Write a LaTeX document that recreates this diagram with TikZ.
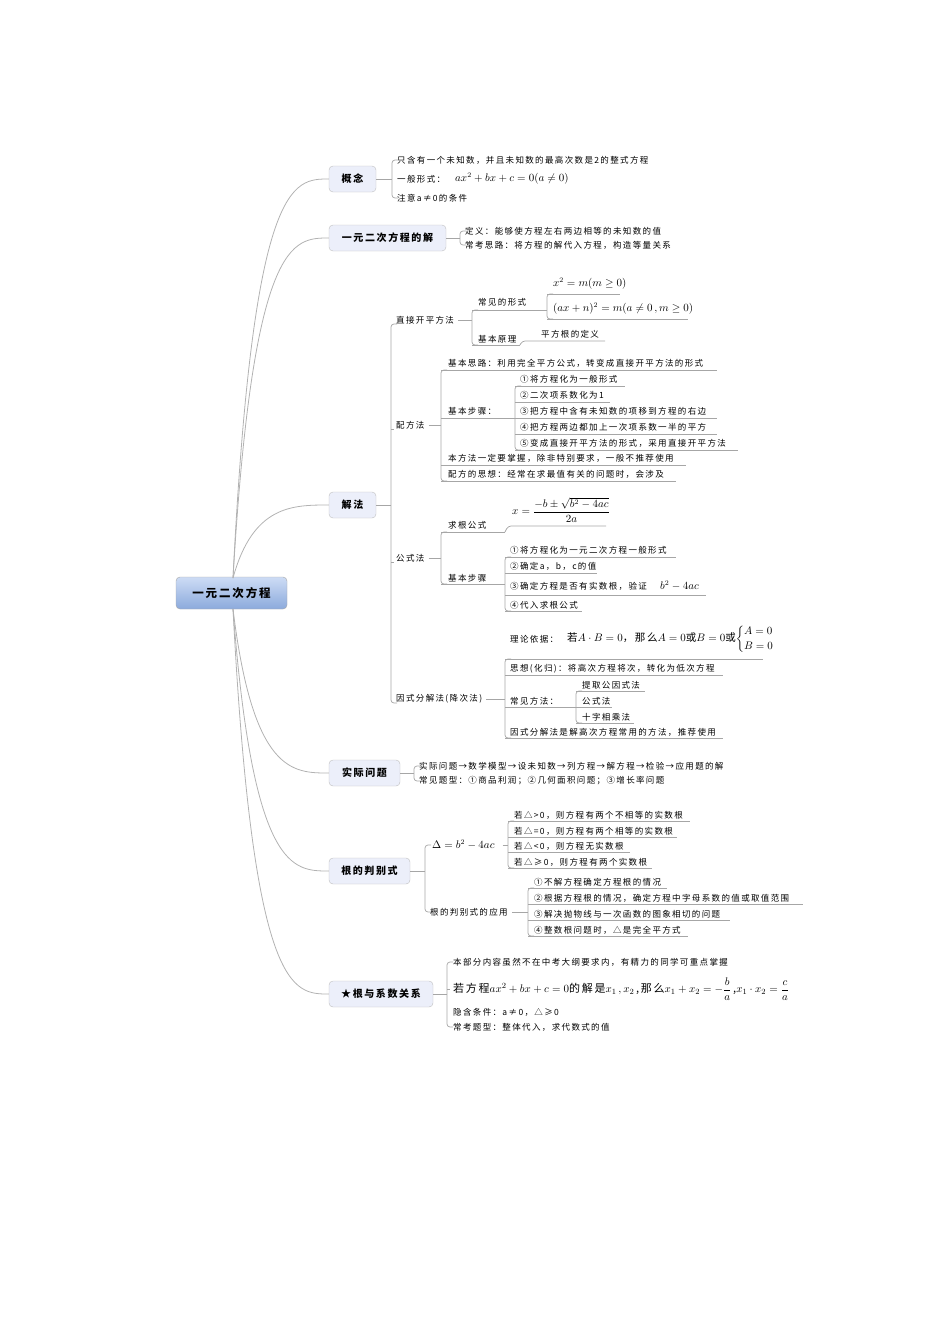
\documentclass[tikz,border=0pt]{standalone}
\usepackage{fontspec}
\setmainfont{Noto Sans CJK SC}[LetterSpace=16]
\usepackage{amsmath}
\usetikzlibrary{calc}
\begin{document}
\begin{tikzpicture}[x=1pt,y=-1pt,
  ln/.style={draw=black!35,line width=0.7pt},
  br/.style={draw=black!30,line width=0.8pt},
  tx/.style={anchor=west,inner sep=0pt,font=\fontsize{8.5}{10}\selectfont},
  fm/.style={anchor=west,inner sep=0pt,font=\fontsize{10.5}{12}\selectfont},
  box/.style={draw=black!25,fill={rgb,255:red,236;green,239;blue,250},rounded corners=4,
     minimum height=26pt,inner xsep=8pt,font=\fontsize{10}{12}\selectfont\bfseries}]
\newcommand\ul[3]{\draw[ln] (#1,#2) -- (#3,#2);}
\newcommand\brk[3]{\draw[ln,rounded corners=3] ({#1+6},#2) -- (#1,#2) -- (#1,#3) -- ({#1+6},#3);}
\useasboundingbox (0,0) rectangle (950,1344);
% root
\node[draw=black!35,rounded corners=4,top color={rgb,255:red,205;green,220;blue,245},
  bottom color={rgb,255:red,140;green,170;blue,220},minimum width=111pt,minimum height=32pt,
  font=\fontsize{11.5}{13}\selectfont\bfseries] (root) at (231.5,593) {一元二次方程};
% branches
\node[box,minimum width=47pt] (b1) at (352.5,179) {概念};
\node[box,minimum width=117pt] (b2) at (387.5,238) {一元二次方程的解};
\node[box,minimum width=47pt] (b3) at (352.5,505) {解法};
\node[box,minimum width=71pt] (b4) at (364.5,773) {实际问题};
\node[box,minimum width=81pt] (b5) at (369.5,871) {根的判别式};
\node[box,minimum width=104pt] (b6) at (381,994) {★根与系数关系};
\coordinate (rt) at (233,578);
\coordinate (rb) at (233,609);
\foreach \b/\s in {b1/rt,b2/rt,b3/rt,b4/rb,b5/rb,b6/rb}{
  \draw[br] (\s) .. controls (253,0 |- \b.west) and ($(\b.west)+(-36,0)$) .. (\b.west);}

% 概念
\draw[ln] (b1.east) -- (392,179);
\brk{392}{160}{198}
\node[tx] (k1) at (397,160) {只含有一个未知数，并且未知数的最高次数是2的整式方程};
\node[tx] (k2) at (397,179) {一般形式：};
\node[fm] (k2f) at (455,179) {$ax^2+bx+c=0(a\neq0)$};
\node[tx] (k3) at (397,198) {注意a≠0的条件};

% 解
\draw[ln] (b2.east) -- (460,238);
\brk{460}{231}{245}
\node[tx] (s1) at (465,231) {定义：能够使方程左右两边相等的未知数的值};
\node[tx] (s2) at (465,245) {常考思路：将方程的解代入方程，构造等量关系};

% 解法
\draw[ln] (b3.east) -- (391,505);
\brk{391}{324}{703}
\draw[ln] (391,429) -- (394,429);
\draw[ln] (391,562) -- (394,562);
\node[tx] (j1) at (396,320) {直接开平方法};
\node[tx] (j2) at (396,425) {配方法};
\node[tx] (j3) at (396,558) {公式法};
\node[tx] (j4) at (396,699) {因式分解法(降次法)};

% 直接开平方法
\draw[ln] (j1.east) ++(4,0) -- (472,320);
\brk{472}{310}{345}
\node[tx] (z1) at (478,302) {常见的形式}; \ul{472}{310}{545}
\node[tx] (z2) at (478,339) {基本原理}; \ul{472}{345}{520}
\brk{547}{294}{319}
\draw[ln] (545,310) -- (547,310);
\node[fm] (z11) at (553,284) {$x^2=m(m\geq0)$}; \ul{547}{294}{620}
\node[fm] (z12) at (553,309) {$(ax+n)^2=m(a\neq0\,,m\geq0)$}; \ul{547}{319}{688}
\draw[ln,rounded corners=3] (520,345) -- (522,341) -- (605,341);
\node[tx] (z21) at (541,334) {平方根的定义};

% 配方法
\draw[ln] (j2.east) ++(4,0) -- (441,425);
\brk{441}{370}{481}
\node[tx] (p1) at (448,363) {基本思路：利用完全平方公式，转变成直接开平方法的形式}; \ul{441}{370}{717}
\node[tx] (p2) at (448,411) {基本步骤：}; \ul{441}{418}{515}
\node[tx] (p3) at (448,458) {本方法一定要掌握，除非特别要求，一般不推荐使用}; \ul{441}{465}{686}
\node[tx] (p4) at (448,474) {配方的思想：经常在求最值有关的问题时，会涉及}; \ul{441}{481}{676}
\brk{515}{386}{450}
\node[tx] at (520,379) {①将方程化为一般形式}; \ul{515}{386}{625}
\node[tx] at (520,395) {②二次项系数化为1}; \ul{515}{402}{610}
\node[tx] at (520,411) {③把方程中含有未知数的项移到方程的右边}; \ul{515}{418}{717}
\node[tx] at (520,427) {④把方程两边都加上一次项系数一半的平方}; \ul{515}{434}{717}
\node[tx] at (520,443) {⑤变成直接开平方法的形式，采用直接开平方法}; \ul{515}{450}{738}

% 公式法
\draw[ln] (j3.east) ++(4,0) -- (441,558);
\brk{441}{532}{584}
\node[tx] (g1) at (448,525) {求根公式}; \ul{441}{532}{505}
\draw[ln,rounded corners=3] (505,532) -- (508,526) -- (606,526);
\node[fm] (g1f) at (512,510) {$x=\dfrac{-b\pm\sqrt{b^2-4ac}}{2a}$};
\node[tx] (g2) at (448,578) {基本步骤}; \ul{441}{584}{505}
\brk{505}{557}{611}
\node[tx] at (510,550) {①将方程化为一元二次方程一般形式}; \ul{505}{557}{676}
\node[tx] at (510,566) {②确定a，b，c的值}; \ul{505}{573}{597}
\node[tx] at (510,586) {③确定方程是否有实数根，验证}; \ul{505}{595}{706}
\node[fm] at (660,586) {$b^2-4ac$};
\node[tx] at (510,605) {④代入求根公式}; \ul{505}{611}{582}

% 因式分解法
\draw[ln] (j4.east) ++(4,0) -- (505,699);
\brk{505}{659}{738}
\node[tx] (y0) at (510,639) {理论依据：};
\node[fm] at (567,639) {若$A\cdot B=0$，那么$A=0$或$B=0$或$\begin{cases}A=0\\B=0\end{cases}$};
\ul{505}{659}{763}
\node[tx] at (510,669) {思想(化归)：将高次方程将次，转化为低次方程}; \ul{505}{675}{723}
\node[tx] (y2) at (510,701) {常见方法：}; \ul{505}{707}{576}
\brk{576}{691}{723}
\node[tx] at (582,685) {提取公因式法}; \ul{576}{691}{645}
\node[tx] at (582,701) {公式法}; \ul{576}{707}{612}
\node[tx] at (582,717) {十字相乘法}; \ul{576}{723}{634}
\node[tx] at (510,732) {因式分解法是解高次方程常用的方法，推荐使用}; \ul{505}{738}{723}

% 实际问题
\draw[ln] (b4.east) -- (414,773);
\brk{414}{766}{781}
\node[tx] at (419,766) {实际问题→数学模型→设未知数→列方程→解方程→检验→应用题的解};
\node[tx] at (419,781) {常见题型：①商品利润；②几何面积问题；③增长率问题};

% 根的判别式
\draw[ln] (b5.east) -- (425,871);
\brk{425}{845}{912}
\node[fm] (d1) at (432,845) {$\Delta=b^2-4ac$};
\node[tx] (d2) at (430,912) {根的判别式的应用};
\draw[ln] (d1.east) ++(8,0) -- (508,845);
\brk{508}{821}{868}
\node[tx] at (514,815) {若△>0，则方程有两个不相等的实数根}; \ul{508}{821}{690}
\node[tx] at (514,831) {若△=0，则方程有两个相等的实数根}; \ul{508}{837}{677}
\node[tx] at (514,846) {若△<0，则方程无实数根}; \ul{508}{852}{630}
\node[tx] at (514,862) {若△≥0，则方程有两个实数根}; \ul{508}{868}{652}
\draw[ln] (d2.east) ++(4,0) -- (528,912);
\brk{528}{888}{936}
\node[tx] at (534,882) {①不解方程确定方程根的情况}; \ul{528}{888}{667}
\node[tx] at (534,898) {②根据方程根的情况，确定方程中字母系数的值或取值范围}; \ul{528}{904}{803}
\node[tx] at (534,914) {③解决抛物线与一次函数的图象相切的问题}; \ul{528}{920}{730}
\node[tx] at (534,930) {④整数根问题时，△是完全平方式}; \ul{528}{936}{688}

% 根与系数
\draw[ln] (b6.east) -- (447,994);
\brk{447}{962}{1027}
\draw[ln] (447,989) -- (450,989);
\node[tx] at (453,962) {本部分内容虽然不在中考大纲要求内，有精力的同学可重点掌握};
\node[anchor=west,inner sep=0pt,font=\fontsize{11}{13}\selectfont] at (453,989)
  {若方程$ax^2+bx+c=0$的解是$x_1\,,x_2$\,,那么$x_1+x_2=-\dfrac{b}{a}$\,,$x_1\cdot x_2=\dfrac{c}{a}$};
\node[tx] at (453,1012) {隐含条件：a≠0，△≥0};
\node[tx] at (453,1027) {常考题型：整体代入，求代数式的值};
\end{tikzpicture}
\end{document}
